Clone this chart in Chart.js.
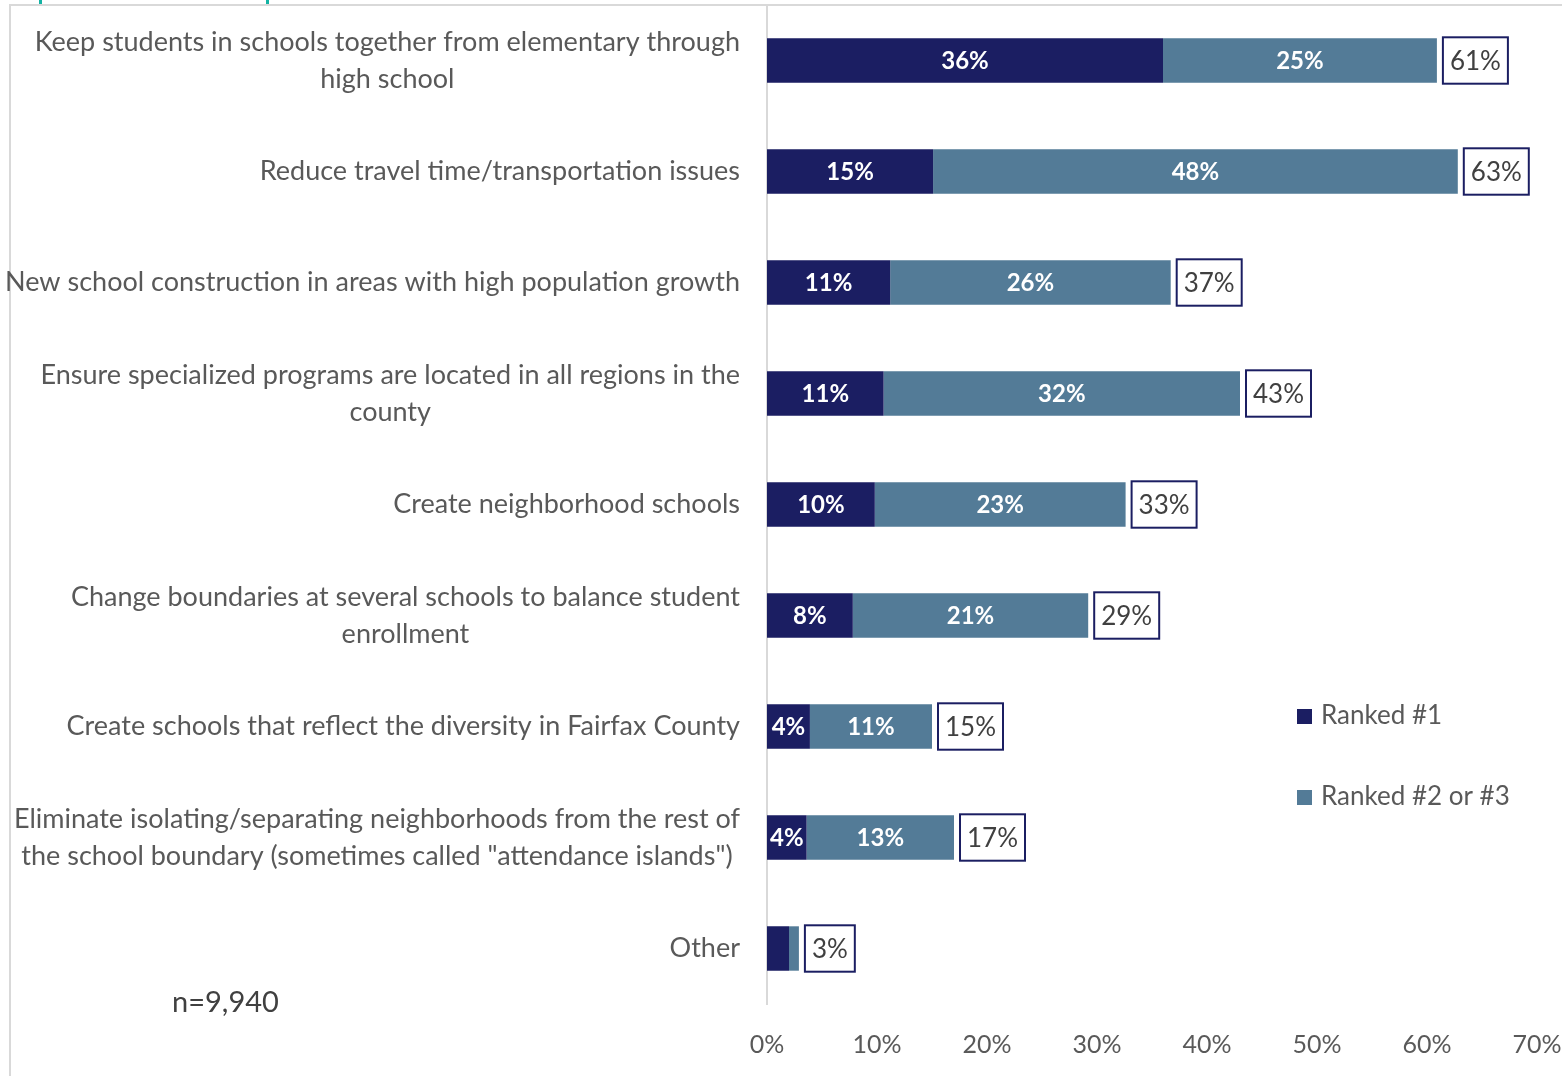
<!DOCTYPE html>
<html>
<head>
<meta charset="utf-8">
<script src="https://cdn.jsdelivr.net/npm/chart.js@4.4.1/dist/chart.umd.min.js"></script>
<style>
  html, body { margin: 0; padding: 0; background: #fff; overflow: hidden; }
  #wrap { position: relative; width: 1562px; height: 1076px; }
  canvas { display: block; }
</style>
</head>
<body>
<div id="wrap"><canvas id="chart" width="1562" height="1076"></canvas></div>
<script>
// categories (lines of each wrapped label)
const categories = [
  ["Keep students in schools together from elementary through", "high school"],
  ["Reduce travel time/transportation issues"],
  ["New school construction in areas with high population growth"],
  ["Ensure specialized programs are located in all regions in the", "county"],
  ["Create neighborhood schools"],
  ["Change boundaries at several schools to balance student", "enrollment"],
  ["Create schools that reflect the diversity in Fairfax County"],
  ["Eliminate isolating/separating neighborhoods from the rest of", "the school boundary (sometimes called \"attendance islands\")"],
  ["Other"]
];
const ranked1 = [36.0, 15.1, 11.2, 10.6, 9.8, 7.8, 3.9, 3.6, 2.0];
const ranked23 = [24.9, 47.7, 25.5, 32.4, 22.8, 21.4, 11.1, 13.4, 0.9];
const totalLabels = ["61%", "63%", "37%", "43%", "33%", "29%", "15%", "17%", "3%"];
const seriesNames = ["Ranked #1", "Ranked #2 or #3"];
const xTicks = [0, 10, 20, 30, 40, 50, 60, 70];
const sampleNote = "n=9,940";

const NAVY = "#1b1e62";
const STEEL = "#537b97";
const GREY = "#595959";
const FONT = "Lato, 'Liberation Sans', sans-serif";

const extras = {
  id: "extras",
  beforeDraw(chart) {
    const ctx = chart.ctx;
    ctx.save();
    // frame
    ctx.strokeStyle = "#d9d9d9";
    ctx.lineWidth = 2;
    ctx.beginPath();
    ctx.moveTo(10, 1076);
    ctx.lineTo(10, 5);
    ctx.lineTo(1562, 5);
    ctx.stroke();
    // bits of a cut-off title above
    ctx.fillStyle = "#13b3a4";
    ctx.fillRect(39, 0, 3, 4);
    ctx.fillRect(266, 0, 3, 4);
    ctx.restore();
  },
  afterDatasetsDraw(chart) {
    const ctx = chart.ctx;
    const y = chart.scales.y;
    const x = chart.scales.x;
    ctx.save();

    // category labels: block right-aligned, lines centred inside the block
    ctx.font = "27px " + FONT;
    ctx.fillStyle = GREY;
    ctx.textAlign = "center";
    ctx.textBaseline = "middle";
    const lh = 37;
    categories.forEach((lines, i) => {
      const cy = y.getPixelForValue(i);
      const w = Math.max(...lines.map(l => ctx.measureText(l).width));
      const cx = 740 - w / 2;
      lines.forEach((l, j) => {
        ctx.fillText(l, cx, cy + (j - (lines.length - 1) / 2) * lh);
      });
    });

    // values inside bars
    ctx.font = "bold 24px " + FONT;
    ctx.fillStyle = "#fff";
    chart.data.datasets.forEach((ds, di) => {
      chart.getDatasetMeta(di).data.forEach((bar, i) => {
        const v = ds.data[i];
        if (v < 3) return;
        ctx.fillText(Math.round(v) + "%", (bar.x + bar.base) / 2, bar.y + 1);
      });
    });

    // total boxes
    ctx.font = "26px " + FONT;
    const meta = chart.getDatasetMeta(0);
    totalLabels.forEach((t, i) => {
      const end = x.getPixelForValue(ranked1[i] + ranked23[i]);
      const bar = meta.data[i];
      const h = bar.height + 2;
      const tw = ctx.measureText(t).width;
      const bx = end + 6;
      const by = bar.y - h / 2;
      const bw = tw + 14;
      ctx.fillStyle = "#fff";
      ctx.fillRect(bx, by, bw, h);
      ctx.strokeStyle = NAVY;
      ctx.lineWidth = 2;
      ctx.strokeRect(bx, by, bw, h);
      ctx.fillStyle = "#404040";
      ctx.fillText(t, bx + bw / 2, bar.y + 1);
    });

    // legend
    ctx.textAlign = "left";
    [NAVY, STEEL].forEach((c, i) => {
      const ly = [716, 797][i];
      ctx.fillStyle = c;
      ctx.fillRect(1297, ly - 7, 15, 15);
      ctx.fillStyle = GREY;
      ctx.fillText(seriesNames[i], 1321, ly);
    });

    // sample size
    ctx.font = "29px " + FONT;
    ctx.fillStyle = "#404040";
    ctx.fillText(sampleNote, 172, 1003);
    ctx.restore();
  }
};

new Chart(document.getElementById("chart"), {
  type: "bar",
  data: {
    labels: categories.map(c => c.join(" ")),
    datasets: [
      { label: seriesNames[0], data: ranked1, backgroundColor: NAVY, barPercentage: 0.4, categoryPercentage: 1 },
      { label: seriesNames[1], data: ranked23, backgroundColor: STEEL, barPercentage: 0.4, categoryPercentage: 1 }
    ]
  },
  options: {
    indexAxis: "y",
    responsive: false,
    animation: false,
    layout: { padding: { top: 5, right: 0, left: 0, bottom: 0 } },
    plugins: { legend: { display: false }, tooltip: { enabled: false } },
    scales: {
      x: {
        stacked: true,
        min: 0,
        max: 70,
        afterBuildTicks(scale) { scale.ticks = xTicks.map(v => ({ value: v })); },
        afterFit(scale) { scale.height = 72; scale.paddingRight = 25; },
        grid: { display: false, drawTicks: false },
        border: { display: false },
        ticks: {
          padding: 26,
          color: GREY,
          font: { size: 25, family: FONT },
          callback: v => v + "%"
        }
      },
      y: {
        stacked: true,
        afterFit(scale) { scale.width = 767; },
        grid: { display: false, drawTicks: false },
        border: { color: "#d9d9d9", width: 2 },
        ticks: { display: false }
      }
    }
  },
  plugins: [extras]
});
</script>
</body>
</html>
